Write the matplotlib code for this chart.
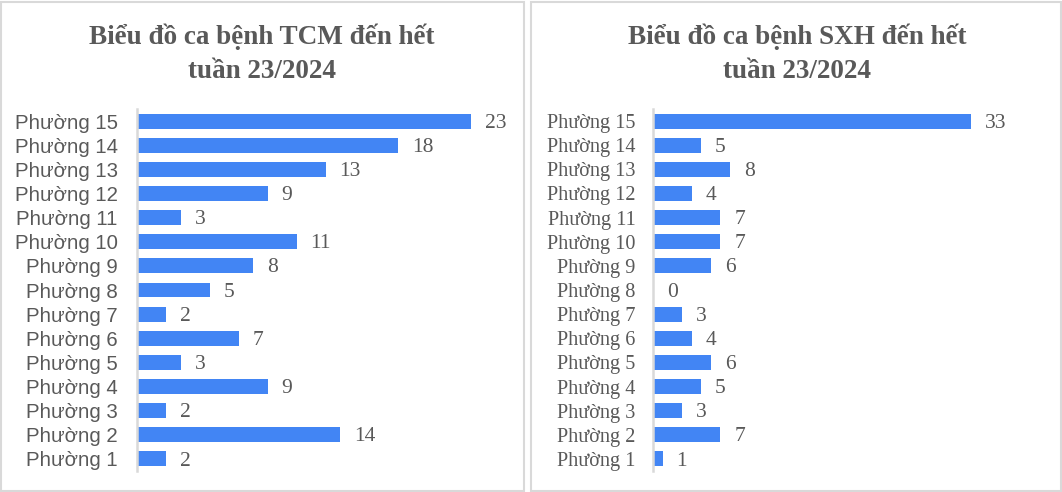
import matplotlib.pyplot as plt
from matplotlib.patches import Rectangle

# data (top row first, like the picture)
wards = ["Phường 15", "Phường 14", "Phường 13", "Phường 12", "Phường 11",
         "Phường 10", "Phường 9", "Phường 8", "Phường 7", "Phường 6",
         "Phường 5", "Phường 4", "Phường 3", "Phường 2", "Phường 1"]
tcm_cases = [23, 18, 13, 9, 3, 11, 8, 5, 2, 7, 3, 9, 2, 14, 2]
sxh_cases = [33, 5, 8, 4, 7, 7, 6, 0, 3, 4, 6, 5, 3, 7, 1]
title_tcm = "Biểu đồ ca bệnh TCM đến hết\ntuần 23/2024"
title_sxh = "Biểu đồ ca bệnh SXH đến hết\ntuần 23/2024"

W, H = 1062, 492
BLUE = "#4285f4"
TXT = "#595959"
GRID = "#d9d9d9"

fig = plt.figure(figsize=(W / 100, H / 100), dpi=100)
fig.patch.set_facecolor("white")


def px(x0, y0, x1, y1):
    # pixel box (top-left origin) -> figure fraction
    return [x0 / W, 1 - y1 / H, (x1 - x0) / W, (y1 - y0) / H]


# panel borders
for x0, x1 in [(1, 524), (531, 1061)]:
    fig.add_artist(Rectangle((x0 / W, 1 / H), (x1 - x0) / W, (H - 3) / H,
                             transform=fig.transFigure, fill=False,
                             edgecolor=GRID, linewidth=1.5))


def draw_panel(box, xmax, values, title, title_x, label_font, label_size, pad):
    ax = fig.add_axes(px(*box))
    pos = list(range(len(values)))
    ax.barh(pos, values, height=0.62, color=BLUE)
    ax.set_ylim(len(values) - 0.5, -0.5)
    ax.set_xlim(0, xmax)
    for s in ["top", "right", "bottom"]:
        ax.spines[s].set_visible(False)
    ax.spines["left"].set_color(GRID)
    ax.spines["left"].set_linewidth(1.8)
    ax.set_xticks([])
    ax.set_yticks(pos)
    ax.set_yticklabels(wards, fontfamily=label_font, fontsize=label_size, color=TXT)
    ax.tick_params(axis="y", length=0, pad=pad)
    for p, v in zip(pos, values):
        ax.annotate(str(v), (v, p), xytext=(10, -1.5), textcoords="offset points",
                    va="center", ha="left", fontfamily="Liberation Serif",
                    fontsize=15.5, color=TXT)
    fig.text(title_x / W, 1 - 54 / H, title, ha="center", va="center",
             fontfamily="Liberation Serif", fontweight="bold", fontsize=19.5,
             color=TXT, linespacing=1.45)
    return ax


draw_panel((137, 109, 500, 471), (500 - 137) / 14.52, tcm_cases, title_tcm, 262,
           "Liberation Sans", 14.7, 14)
draw_panel((653, 109, 1000, 471), (1000 - 653) / 9.64, sxh_cases, title_sxh, 797,
           "Liberation Serif", 14.6, 12.5)

fig.savefig("out.png", dpi=100, facecolor="white")
